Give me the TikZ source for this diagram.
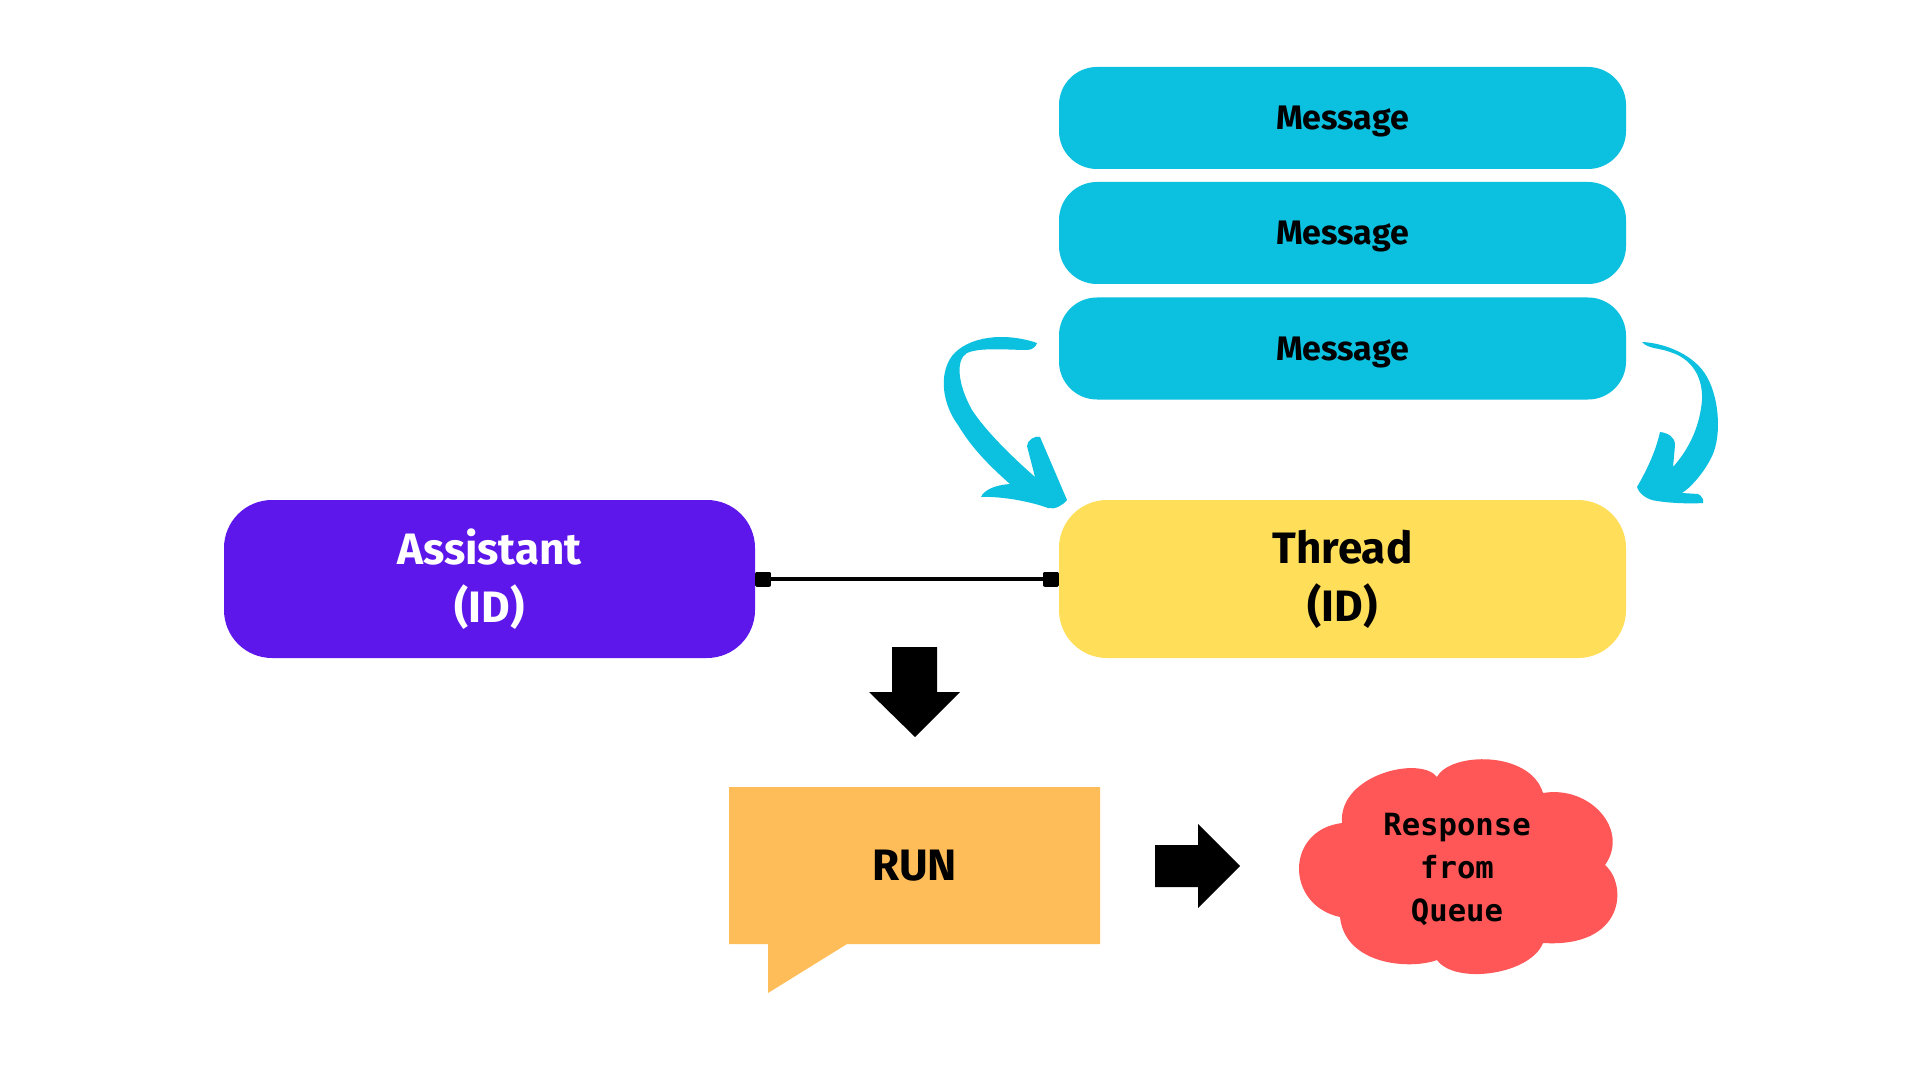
\documentclass[tikz,border=0pt]{standalone}
\usepackage{fontspec}
\setmainfont{Fira Sans}
\newfontfamily\monof{DejaVu Sans Mono}
\usetikzlibrary{arrows.meta}
\definecolor{cyanc}{HTML}{0CC0DF}
\definecolor{purplec}{HTML}{5E17EB}
\definecolor{yellowc}{HTML}{FFDE59}
\definecolor{orangec}{HTML}{FFBD59}
\definecolor{redc}{HTML}{FF5757}
\tikzset{
  msgbox/.style={fill=cyanc, rounded corners=19pt, minimum width=283.5pt, minimum height=51pt, inner sep=0pt,
    text height=11.8pt, text depth=0pt,
    font=\fontsize{17}{20}\selectfont\bfseries, text=black},
  bigbox/.style={rounded corners=24pt, minimum height=79pt, inner sep=0pt, align=center,
    font=\fontsize{22}{29}\selectfont\bfseries},
  sqline/.style={line width=2pt, {Square[length=8pt,width=7.5pt,round]}-{Square[length=8pt,width=7.5pt,round]}},
}
\begin{document}
\begin{tikzpicture}[x=0.5pt,y=-0.5pt]
\useasboundingbox[fill=white] (0,0) rectangle (1920,1080);

% messages
\node[msgbox] (m1) at (1342.5,118) {Message};
\node[msgbox] (m2) at (1342.5,233) {Message};
\node[msgbox] (m3) at (1342.5,348.5) {Message};

% main boxes
\node[bigbox, fill=purplec, text=white, minimum width=265.5pt] (asst) at (489.5,579) {Assistant\\(ID)};
\node[bigbox, fill=yellowc, text=black, minimum width=283.5pt] (thread) at (1342.5,579) {Thread\\(ID)};

% connector
\draw[sqline] (asst.east) -- (thread.west);

% left brush arrow
\fill[cyanc] (1037,343)
 .. controls (1005,332) and (968,336) .. (952,356)
 .. controls (938,375) and (943,405) .. (958,425)
 .. controls (970,445) and (985,462) .. (1010,484)
 .. controls (995,485) and (984,490) .. (981,497)
 .. controls (1005,496) and (1035,503) .. (1048,508)
 .. controls (1055,510) and (1063,505) .. (1067,500)
 -- (1040,437)
 .. controls (1036,435) and (1027,440) .. (1027,446)
 -- (1035,477)
 .. controls (1010,455) and (985,430) .. (972,410)
 .. controls (958,385) and (955,360) .. (967,353)
 .. controls (980,347) and (1010,350) .. (1027,350)
 .. controls (1033,350) and (1036,346) .. (1037,343) -- cycle;

% right brush arrow
\fill[cyanc] (1642,342)
 .. controls (1665,343) and (1695,355) .. (1707,377)
 .. controls (1720,400) and (1722,440) .. (1710,460)
 .. controls (1702,475) and (1690,488) .. (1682,493)
 -- (1698,494)
 .. controls (1702,496) and (1704,500) .. (1703,503)
 .. controls (1690,504) and (1665,503) .. (1652,500)
 .. controls (1645,498) and (1638,492) .. (1637,487)
 .. controls (1648,468) and (1656,450) .. (1660,432)
 .. controls (1668,433) and (1675,437) .. (1675,445)
 -- (1673,467)
 .. controls (1690,448) and (1700,425) .. (1702,400)
 .. controls (1703,375) and (1690,358) .. (1670,352)
 .. controls (1660,348) and (1648,349) .. (1642,342) -- cycle;

% down block arrow
\fill[black] (892,647) -- (937,647) -- (937,692) -- (960,692) -- (915,737) -- (869,692) -- (892,692) -- cycle;

% RUN callout
\fill[orangec] (729,787) -- (1100,787) -- (1100,944) -- (847,944) -- (768,993) -- (768,944) -- (729,944) -- cycle;
\node[font=\fontsize{22}{26}\selectfont\bfseries] (run) at (914.5,865.5) {RUN};

% right block arrow
\fill[black] (1155,845) -- (1198,845) -- (1198,824) -- (1240,866) -- (1198,908) -- (1198,887) -- (1155,887) -- cycle;

% cloud
\fill[redc] (1342,823)
 .. controls (1338,775) and (1420,755) .. (1437,777)
 .. controls (1450,752) and (1530,750) .. (1543,793)
 .. controls (1590,785) and (1630,830) .. (1605,865)
 .. controls (1628,885) and (1625,948) .. (1543,943)
 .. controls (1530,975) and (1455,985) .. (1437,960)
 .. controls (1410,970) and (1345,965) .. (1340,917)
 .. controls (1285,905) and (1285,830) .. (1342,823) -- cycle;
\node[align=center, font=\monof\fontsize{15.3}{21.5}\selectfont\bfseries] (resp) at (1457,869) {Response\\from\\Queue};
\end{tikzpicture}
\end{document}
